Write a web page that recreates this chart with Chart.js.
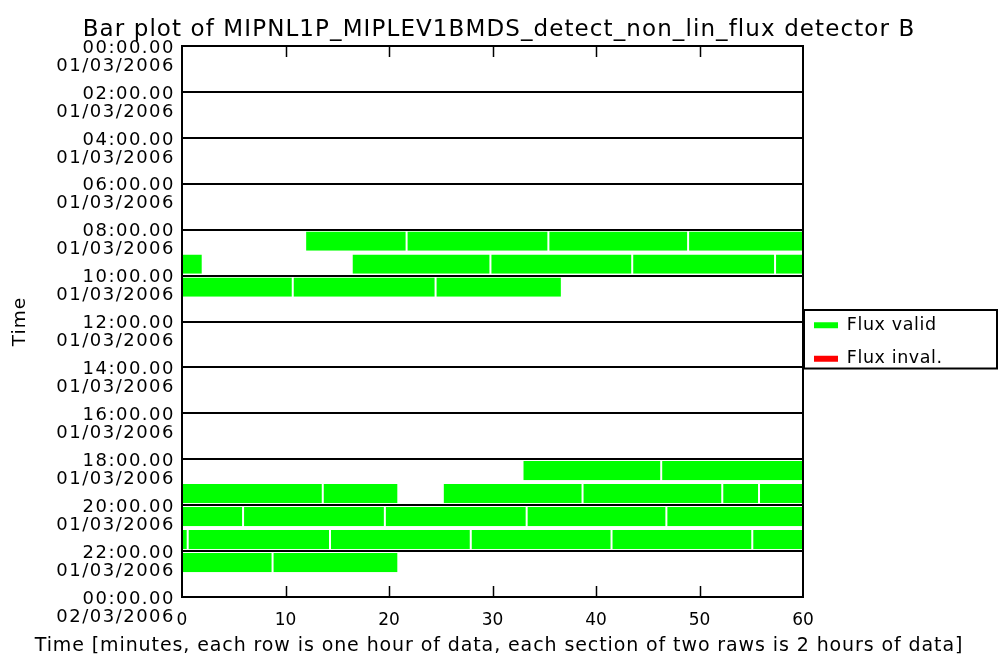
<!DOCTYPE html>
<html>
<head>
<meta charset="utf-8">
<script src="https://cdn.jsdelivr.net/npm/chart.js@4/dist/chart.umd.min.js"></script>
<style>
  html, body { margin: 0; padding: 0; background: #ffffff; }
  canvas { display: block; }
</style>
</head>
<body>
<canvas id="c" width="998" height="660"></canvas>
<script>
// ---------- data ----------
const hourCategories = Array.from({length: 24}, (_, i) => i); // one row per hour
const sectionTickDates = ['01/03/2006', '02/03/2006'];
const minuteTicks = [0, 10, 20, 30, 40, 50, 60];

// valid-flux segments: hour row, start minute, end minute
const segHour  = [8, 8, 8, 8,
                  9, 9, 9, 9, 9,
                  10, 10, 10,
                  18, 18,
                  19, 19, 19, 19, 19, 19,
                  20, 20, 20, 20, 20,
                  21, 21, 21, 21, 21, 21,
                  22, 22];
const segStart = [11.9, 21.7, 35.4, 48.9,
                  0, 16.4, 29.8, 43.5, 57.3,
                  0, 10.7, 24.5,
                  32.9, 46.3,
                  0, 13.6, 25.2, 38.7, 52.2, 55.75,
                  0, 5.9, 19.6, 33.3, 46.8,
                  0, 0.55, 14.3, 27.9, 41.5, 55.1,
                  0, 8.75];
const segEnd   = [21.7, 35.4, 48.9, 60,
                  2.0, 29.8, 43.5, 57.3, 60,
                  10.7, 24.5, 36.7,
                  46.3, 60,
                  13.6, 20.9, 38.7, 52.2, 55.75, 60,
                  5.9, 19.6, 33.3, 46.8, 60,
                  0.55, 14.3, 27.9, 41.5, 55.1, 60,
                  8.75, 20.9];
// invalid-flux segments (none in this plot)
const invHour = [];
const invStart = [];
const invEnd = [];

// ---------- build datasets ----------
const GREEN = '#00ff00';
const RED = '#ff0000';
function buildLayers(hours, starts, ends) {
  const layers = [];
  const count = {};
  hours.forEach((h, i) => {
    const k = count[h] || 0;
    count[h] = k + 1;
    if (!layers[k]) layers[k] = hourCategories.map(() => null);
    layers[k][h] = [starts[i], ends[i]];
  });
  return layers;
}
const validLayers = buildLayers(segHour, segStart, segEnd);
const invalidLayers = buildLayers(invHour, invStart, invEnd);

const barStyle = {
  grouped: false,
  yAxisID: 'yc',
  xAxisID: 'x',
  borderColor: '#ffffff',
  borderWidth: {left: 1, right: 1, top: 0, bottom: 0},
  borderSkipped: false,
  categoryPercentage: 0.84,
  barPercentage: 1.0
};
const datasets = [];
validLayers.forEach((d, k) => datasets.push(Object.assign({}, barStyle, {
  label: k === 0 ? 'Flux valid' : '', data: d, backgroundColor: GREEN
})));
if (invalidLayers.length === 0) invalidLayers.push(hourCategories.map(() => null));
invalidLayers.forEach((d, k) => datasets.push(Object.assign({}, barStyle, {
  label: k === 0 ? 'Flux inval.' : '', data: d, backgroundColor: RED
})));

function hhmm(v) {
  const h = v % 24;
  return (h < 10 ? '0' : '') + h + ':00.00';
}

// ---------- text styling: letter spacing keyed on font size ----------
const FONT = 'DejaVu Sans';
const SIZE_TITLE = 23, SIZE_YTICK = 18, SIZE_XTICK = 17, SIZE_XTITLE = 19, SIZE_YTITLE = 18.5, SIZE_LEGEND = 17.5;
const SPACING = {};
SPACING[SIZE_TITLE] = '1.1px';
SPACING[SIZE_YTICK] = '1.5px';
SPACING[SIZE_XTICK] = '0px';
SPACING[SIZE_XTITLE] = '0.9px';
SPACING[SIZE_YTITLE] = '1px';
SPACING[SIZE_LEGEND] = '0.6px';

const canvas = document.getElementById('c');
const ctx2d = canvas.getContext('2d');
function spacingFor(font) {
  const m = /([\d.]+)px/.exec(font);
  return (m && SPACING[parseFloat(m[1])]) || '0px';
}
['fillText', 'measureText'].forEach(fn => {
  const orig = CanvasRenderingContext2D.prototype[fn];
  ctx2d[fn] = function (...args) {
    this.letterSpacing = spacingFor(this.font);
    return orig.apply(this, args);
  };
});

// ---------- layout helpers ----------
const LEGEND_W = 195;
const LEGEND_SHIFT_Y = 12;
const LEGEND_SHIFT_X = -5;

const framePlugin = {
  id: 'idlFrame',
  beforeUpdate(chart) {
    const lg = chart.legend;
    if (lg && !lg._fitPatched) {
      const f = lg.fit;
      lg.fit = function () { f.call(this); this.width = LEGEND_W; };
      lg._fitPatched = true;
    }
  },
  afterUpdate(chart) {
    const lg = chart.legend;
    if (lg) {
      lg.top += LEGEND_SHIFT_Y;
      lg.bottom += LEGEND_SHIFT_Y;
      lg.left += LEGEND_SHIFT_X;
      lg.right += LEGEND_SHIFT_X;
      lg.adjustHitBoxes();
    }
  },
  afterDraw(chart) {
    const {ctx, chartArea: a} = chart;
    const x = chart.scales.x;
    ctx.save();
    ctx.strokeStyle = '#000';
    ctx.lineWidth = 2;
    ctx.strokeRect(a.left, a.top, a.right - a.left, a.bottom - a.top);
    ctx.lineWidth = 1.5;
    ctx.beginPath();
    x.ticks.forEach(t => {
      if (t.value <= x.min || t.value >= x.max) return;
      const px = Math.round(x.getPixelForValue(t.value)) + 0.5;
      ctx.moveTo(px, a.top); ctx.lineTo(px, a.top + 11);
      ctx.moveTo(px, a.bottom); ctx.lineTo(px, a.bottom - 11);
    });
    ctx.stroke();
    const hb = chart.legend.legendHitBoxes;
    if (hb && hb.length) {
      const top = hb[0].top - 6.5;
      const last = hb[hb.length - 1];
      const bottom = last.top + last.height + 1;
      ctx.lineWidth = 2;
      ctx.strokeRect(a.right + 1, top, chart.width - a.right - 2, bottom - top);
    }
    ctx.restore();
  }
};

new Chart(canvas, {
  type: 'bar',
  data: { labels: hourCategories, datasets },
  options: {
    indexAxis: 'y',
    responsive: false,
    devicePixelRatio: 1,
    animation: false,
    layout: { padding: 0 },
    scales: {
      yc: {
        type: 'category',
        labels: hourCategories,
        display: false,
        offset: true,
        position: 'left'
      },
      y: {
        type: 'linear',
        position: 'left',
        min: 0, max: 24,
        reverse: true,
        offset: false,
        afterFit(s) { s.width = 182; },
        afterBuildTicks(s) {
          s.ticks = [];
          for (let v = 0; v <= 24; v += 2) s.ticks.push({value: v});
        },
        ticks: {
          autoSkip: false,
          color: '#000',
          padding: 7,
          labelOffset: 11,
          font: { family: FONT, size: SIZE_YTICK, lineHeight: 1.0 },
          callback: v => [hhmm(v), v < 24 ? sectionTickDates[0] : sectionTickDates[1]]
        },
        grid: { color: '#000', lineWidth: 2, drawTicks: false, offset: false },
        border: { display: true, color: '#000', width: 2 },
        title: {
          display: true, text: 'Time', color: '#000',
          font: { family: FONT, size: SIZE_YTITLE }, padding: { top: 9, bottom: 0 }
        }
      },
      x: {
        type: 'linear',
        position: 'bottom',
        min: 0, max: 60,
        afterFit(s) { s.height = 35; },
        afterBuildTicks(s) { s.ticks = minuteTicks.map(v => ({value: v})); },
        ticks: {
          autoSkip: false, color: '#000', padding: 13, maxRotation: 0,
          font: { family: FONT, size: SIZE_XTICK }
        },
        grid: { display: false, drawTicks: false },
        border: { display: true, color: '#000', width: 2 },
        title: { display: false }
      }
    },
    plugins: {
      title: {
        display: true,
        text: 'Bar plot of MIPNL1P_MIPLEV1BMDS_detect_non_lin_flux detector B',
        color: '#000',
        font: { family: FONT, size: SIZE_TITLE, weight: 'normal', lineHeight: 1.2 },
        padding: { top: 16, bottom: 2.4 }
      },
      subtitle: {
        display: true,
        position: 'bottom',
        text: 'Time [minutes, each row is one hour of data, each section of two raws is 2 hours of data]',
        color: '#000',
        font: { family: FONT, size: SIZE_XTITLE, weight: 'normal', lineHeight: 1.2 },
        padding: { top: 2.6, bottom: 2.6 }
      },
      legend: {
        display: true,
        position: 'right',
        align: 'center',
        labels: {
          color: '#000',
          boxWidth: 24,
          boxHeight: 6,
          padding: 16,
          font: { family: FONT, size: SIZE_LEGEND },
          generateLabels(chart) {
            return Chart.defaults.plugins.legend.labels.generateLabels(chart)
              .filter(i => i.text)
              .map(i => Object.assign(i, { lineWidth: 0, strokeStyle: 'rgba(0,0,0,0)' }));
          }
        }
      },
      tooltip: { enabled: false }
    }
  },
  plugins: [framePlugin]
});
</script>
</body>
</html>
